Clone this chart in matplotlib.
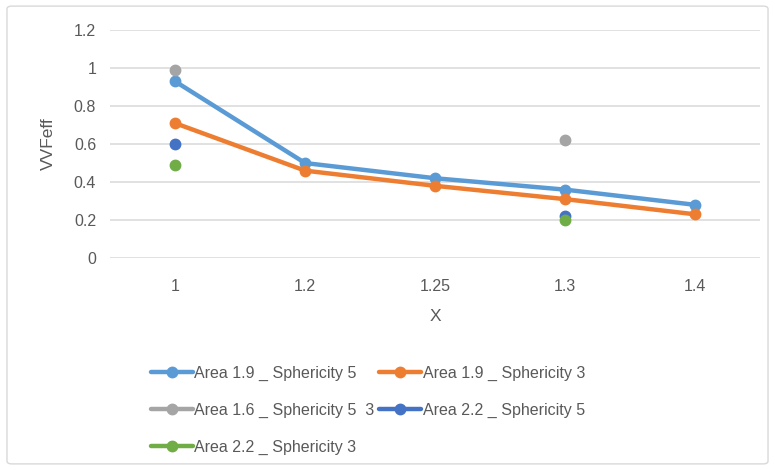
import numpy as np
import matplotlib
matplotlib.use("Agg")
import matplotlib.pyplot as plt
from matplotlib.patches import FancyBboxPatch

x_labels = ["1", "1.2", "1.25", "1.3", "1.4"]

area19_sph5 = [0.93, 0.50, 0.42, 0.36, 0.28]
area19_sph3 = [0.71, 0.46, 0.38, 0.31, 0.23]
area16_sph5 = [0.99, np.nan, np.nan, 0.62, np.nan]
area22_sph5 = [0.60, np.nan, np.nan, 0.22, np.nan]
area22_sph3 = [0.49, np.nan, np.nan, 0.20, np.nan]

names = ["Area 1.9 _ Sphericity 5", "Area 1.9 _ Sphericity 3",
         "Area 1.6 _ Sphericity 5  3", "Area 2.2 _ Sphericity 5",
         "Area 2.2 _ Sphericity 3"]
colors = ["#5B9BD5", "#ED7D31", "#A5A5A5", "#4472C4", "#70AD47"]
series = [area19_sph5, area19_sph3, area16_sph5, area22_sph5, area22_sph3]

plt.rcParams['font.family'] = ['Liberation Sans', 'DejaVu Sans']
text_col = "#595959"

fig = plt.figure(figsize=(7.75, 4.7), dpi=100)
fig.patches.append(FancyBboxPatch((0.009, 0.013), 0.982, 0.974,
                                  boxstyle="round,pad=0,rounding_size=0.006",
                                  transform=fig.transFigure, fill=False,
                                  edgecolor="#d9d9d9", linewidth=1.0))

ax = fig.add_axes([0.142, 0.451, 0.839, 0.485])
pos = np.arange(len(x_labels))

handles = []
for vals, name, c in zip(series, names, colors):
    h, = ax.plot(pos, vals, color=c, linewidth=3.2, marker="o",
                 markersize=7.5, label=name, solid_capstyle="round")
    handles.append(h)

ax.set_xlim(-0.5, len(x_labels) - 0.5)
ax.set_ylim(0, 1.2)
ax.set_yticks(np.arange(0, 1.21, 0.2))
ax.set_yticklabels(["0", "0.2", "0.4", "0.6", "0.8", "1", "1.2"])
ax.set_xticks(pos)
ax.set_xticklabels(x_labels)
ax.grid(axis="y", color="#d9d9d9", linewidth=1.1)
ax.set_axisbelow(True)
for s in ax.spines.values():
    s.set_visible(False)
ax.tick_params(length=0, labelsize=11.5, colors=text_col, pad=10)
ax.tick_params(axis="x", pad=15)

ax.set_ylabel("VVFeff", fontsize=12.5, color=text_col, labelpad=13)
ax.set_xlabel("X", fontsize=12.5, color=text_col, labelpad=11)

# two columns filled row by row
order = [0, 2, 4, 1, 3]
leg = fig.legend([handles[i] for i in order], [names[i] for i in order],
                 ncol=2, loc="upper left", bbox_to_anchor=(0.187, 0.236),
                 frameon=False, fontsize=11.5, handlelength=2.6,
                 handletextpad=0.1, columnspacing=0.3, labelspacing=1.38,
                 borderaxespad=0)
for t in leg.get_texts():
    t.set_color(text_col)

fig.savefig("out.png", dpi=100)
